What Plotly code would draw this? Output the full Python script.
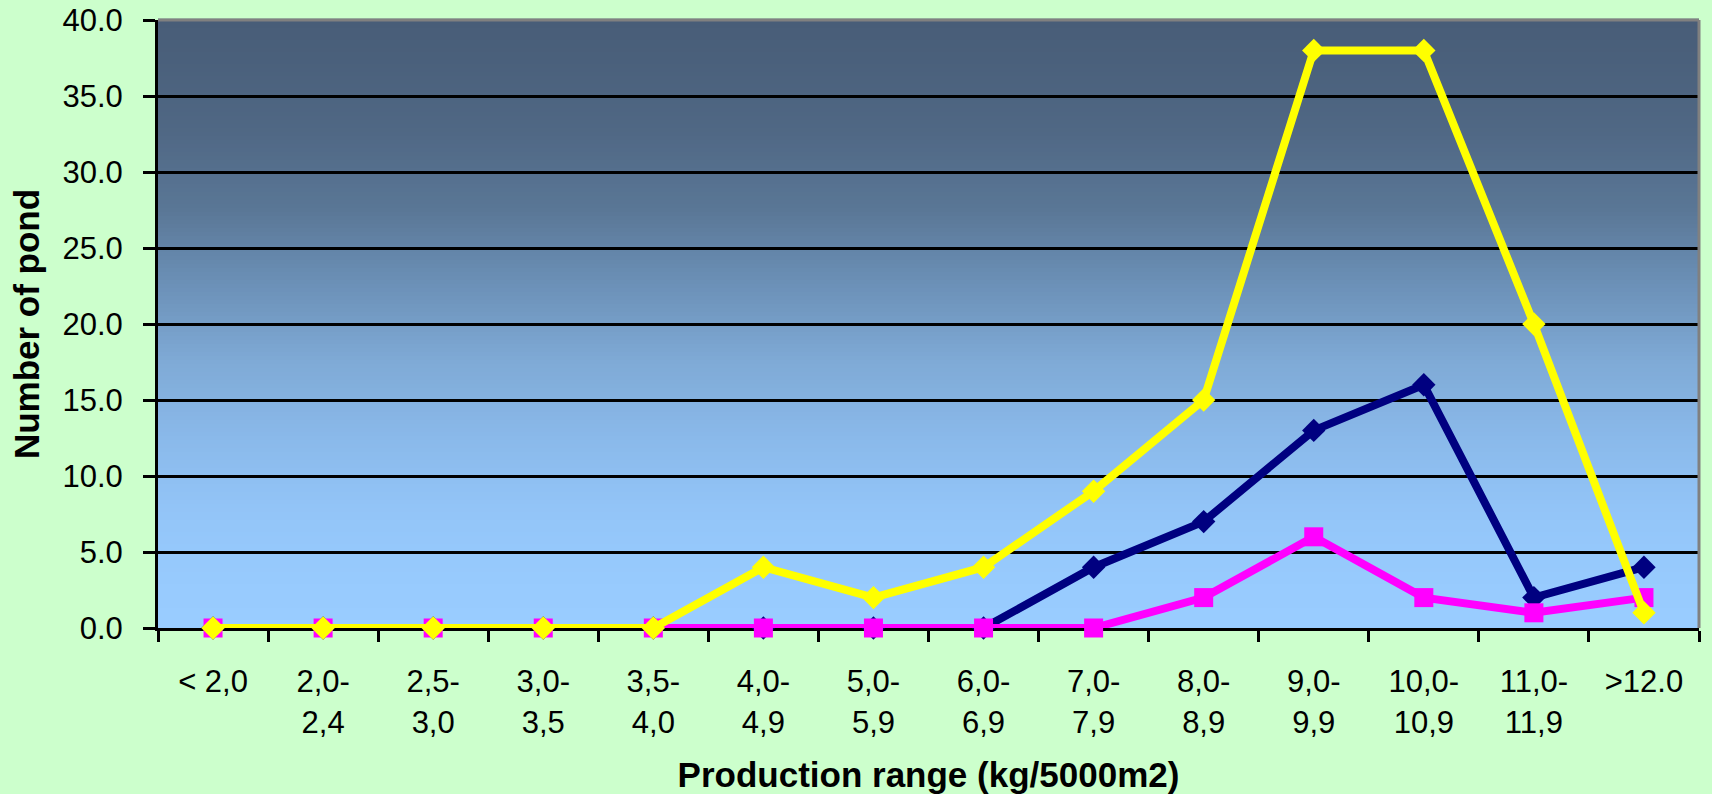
import plotly.graph_objects as go

categories = ["< 2,0", "2,0-2,4", "2,5-3,0", "3,0-3,5", "3,5-4,0", "4,0-4,9", "5,0-5,9",
              "6,0-6,9", "7,0-7,9", "8,0-8,9", "9,0-9,9", "10,0-10,9", "11,0-11,9", ">12.0"]
tick_labels = ["< 2,0", "2,0-<br>2,4", "2,5-<br>3,0", "3,0-<br>3,5", "3,5-<br>4,0", "4,0-<br>4,9",
               "5,0-<br>5,9", "6,0-<br>6,9", "7,0-<br>7,9", "8,0-<br>8,9", "9,0-<br>9,9",
               "10,0-<br>10,9", "11,0-<br>11,9", ">12.0"]
navy_values = [0, 0, 0, 0, 0, 0, 0, 0, 4, 7, 13, 16, 2, 4]
pink_values = [0, 0, 0, 0, 0, 0, 0, 0, 0, 2, 6, 2, 1, 2]
yellow_values = [0, 0, 0, 0, 0, 4, 2, 4, 9, 15, 38, 38, 20, 1]
y_ticks = [0, 5, 10, 15, 20, 25, 30, 35, 40]

W, H = 1712, 794
L, R, T, B = 158, 13, 20, 166

fig = go.Figure()
fig.add_trace(go.Scatter(x=categories, y=navy_values, mode="lines+markers",
                         line=dict(color="#000080", width=8),
                         marker=dict(symbol="diamond", size=18, color="#000080"),
                         cliponaxis=False, showlegend=False))
fig.add_trace(go.Scatter(x=categories, y=pink_values, mode="lines+markers",
                         line=dict(color="#FF00FF", width=8),
                         marker=dict(symbol="square", size=19, color="#FF00FF"),
                         cliponaxis=False, showlegend=False))
fig.add_trace(go.Scatter(x=categories, y=yellow_values, mode="lines+markers",
                         line=dict(color="#FFFF00", width=8),
                         marker=dict(symbol="diamond", size=18, color="#FFFF00"),
                         cliponaxis=False, showlegend=False))

# vertical gradient background of the plot area
stops = [(0.0, (0x99, 0xCC, 0xFF)), (0.0625, (0x98, 0xCB, 0xFE)), (0.1875, (0x93, 0xC5, 0xF8)),
         (0.3125, (0x8A, 0xB9, 0xEA)), (0.4375, (0x7F, 0xAA, 0xD6)), (0.5625, (0x6C, 0x91, 0xB8)),
         (0.6875, (0x5A, 0x77, 0x96)), (0.8125, (0x50, 0x68, 0x85)), (0.9375, (0x4A, 0x60, 0x7B)),
         (1.0, (0x48, 0x5D, 0x78))]

def col_at(f):
    for (f0, c0), (f1, c1) in zip(stops[:-1], stops[1:]):
        if f0 <= f <= f1:
            t = (f - f0) / (f1 - f0)
            return "rgb(%d,%d,%d)" % tuple(round(a + (b - a) * t) for a, b in zip(c0, c1))
    return "rgb(153,204,255)"

n = 152
shapes = []
for i in range(n):
    y0 = i / n
    y1 = (i + 1) / n
    shapes.append(dict(type="rect", xref="x domain", yref="y domain", x0=0, x1=1, y0=y0, y1=y1 + 0.002,
                       fillcolor=col_at((y0 + y1) / 2), line=dict(width=0), layer="below"))
# gray top/right frame
shapes.append(dict(type="line", xref="x domain", yref="y domain", x0=0, x1=1, y0=1, y1=1,
                   line=dict(color="#808080", width=3), layer="above"))
shapes.append(dict(type="line", xref="x domain", yref="y domain", x0=1, x1=1, y0=0, y1=1,
                   line=dict(color="#808080", width=3), layer="above"))

font_family = "Liberation Sans, Arial, sans-serif"
fig.update_layout(
    width=W, height=H,
    margin=dict(l=L, r=R, t=T, b=B),
    paper_bgcolor="#CCFFCC",
    plot_bgcolor="#99CCFF",
    shapes=shapes,
    font=dict(family=font_family, size=31, color="black"),
    xaxis=dict(type="category", categoryorder="array", categoryarray=categories,
               tickmode="array", tickvals=categories, ticktext=tick_labels,
               tickson="boundaries", ticks="outside", ticklen=11, tickwidth=3, tickcolor="black",
               showline=True, linecolor="black", linewidth=3, showgrid=False,
               range=[-0.5, 13.5], layer="below traces", automargin=False,
               ticklabelstandoff=24,
               tickfont=dict(family=font_family, size=31),
               title=dict(text="<b>Production range (kg/5000m2)</b>", standoff=24,
                          font=dict(family=font_family, size=35))),
    yaxis=dict(range=[0, 40], tickmode="array", tickvals=y_ticks, tickformat=".1f",
               ticks="outside", ticklen=12, tickwidth=3, tickcolor="black",
               showline=True, linecolor="black", linewidth=3,
               showgrid=True, gridcolor="black", gridwidth=3, zeroline=False,
               automargin=False, ticklabelstandoff=14,
               tickfont=dict(family=font_family, size=31),
               title=dict(text="<b>Number of pond</b>", standoff=13,
                          font=dict(family=font_family, size=35))),
)

fig.write_html("out.html", config={"displayModeBar": False},
               post_script="document.body.style.margin='0';document.body.style.background='#CCFFCC';")
